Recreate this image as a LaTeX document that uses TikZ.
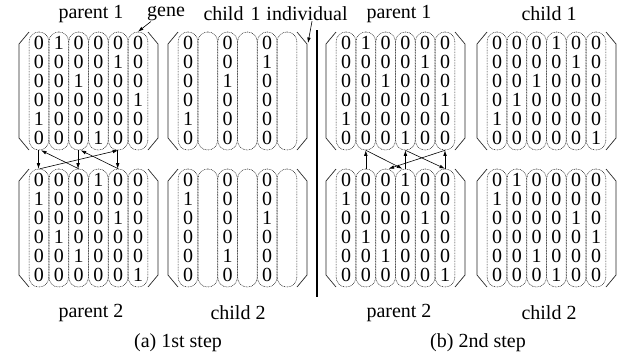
\documentclass[tikz,border=0pt]{standalone}
\usepackage{fontspec}
\setmainfont{Liberation Serif}
\usetikzlibrary{arrows.meta}

\tikzset{
  geneoval/.style={draw=black!85, line width=0.55pt, dash pattern=on 0.8pt off 0.8pt,
    rounded corners=9.6pt, minimum width=19.6pt, minimum height=118pt, inner sep=0pt},
  digit/.style={inner sep=0pt, font=\fontsize{20}{22}\selectfont},
  bracket/.style={draw=black!85, line width=0.7pt},
  label/.style={inner sep=0pt, font=\fontsize{20}{22}\selectfont},
  link/.style={-{Latex[length=5.5pt,width=3.6pt]}, line width=0.6pt},
}

% #1 name, #2 x of first column, #3 top of the gene ovals, #4 list of columns
\newcommand\chromosome[4]{%
  \begin{scope}[shift={(#2,#3)}]
    \foreach \col [count=\c] in {#4} {
      \node[geneoval] (#1-\c) at ({(\c-1)*19.8}, 59) {};
      \foreach \v [count=\r] in \col {
        \node[digit] (#1-\c-\r) at ({(\c-1)*19.8}, {11+(\r-1)*19}) {\v};
      }
    }
    \draw[bracket] (-10,0) -- (-20,12) -- (-20,106) -- (-10,118);
    \draw[bracket] (109,0) -- (119,12) -- (119,106) -- (109,118);
    \coordinate (#1-R) at (120,11);
  \end{scope}}

\begin{document}
\begin{tikzpicture}[x=1pt, y=-1pt]
  \useasboundingbox (0,0) rectangle (624,354);

  % (a) first step
  \chromosome{ap1}{39}{32}{{0,0,0,0,1,0},{1,0,0,0,0,0},{0,0,1,0,0,0},{0,0,0,0,0,1},{0,1,0,0,0,0},{0,0,0,1,0,0}}
  \chromosome{ap2}{39}{169}{{0,1,0,0,0,0},{0,0,0,1,0,0},{0,0,0,0,1,0},{1,0,0,0,0,0},{0,0,1,0,0,0},{0,0,0,0,0,1}}
  \chromosome{ac1}{188}{32}{{0,0,0,0,1,0},{},{0,0,1,0,0,0},{},{0,1,0,0,0,0},{}}
  \chromosome{ac2}{188}{169}{{0,1,0,0,0,0},{},{0,0,0,0,1,0},{},{0,0,1,0,0,0},{}}

  % (b) second step
  \chromosome{bp1}{346}{32}{{0,0,0,0,1,0},{1,0,0,0,0,0},{0,0,1,0,0,0},{0,0,0,0,0,1},{0,1,0,0,0,0},{0,0,0,1,0,0}}
  \chromosome{bp2}{346}{169}{{0,1,0,0,0,0},{0,0,0,1,0,0},{0,0,0,0,1,0},{1,0,0,0,0,0},{0,0,1,0,0,0},{0,0,0,0,0,1}}
  \chromosome{bc1}{497}{32}{{0,0,0,0,1,0},{0,0,0,1,0,0},{0,0,1,0,0,0},{1,0,0,0,0,0},{0,1,0,0,0,0},{0,0,0,0,0,1}}
  \chromosome{bc2}{497}{169}{{0,1,0,0,0,0},{1,0,0,0,0,0},{0,0,0,0,1,0},{0,0,0,0,0,1},{0,0,1,0,0,0},{0,0,0,1,0,0}}

  % labels
  \node[label] (lap1) at (91,14) {parent 1};
  \node[label] (gene) at (166,14) {gene};
  \node[label] (lac1) at (232,14) {child\hspace{0.35em}1};
  \node[label] (indiv) at (307,14) {individual};
  \node[label] (lbp1) at (399,14) {parent 1};
  \node[label] (lbc1) at (549,14) {child 1};
  \node[label] (lap2) at (91,313) {parent 2};
  \node[label] (lac2) at (238,313) {child 2};
  \node[label] (lbp2) at (399,313) {parent 2};
  \node[label] (lbc2) at (549,313) {child 2};
  \node[label] (capa) at (178,343) {(a) 1st step};
  \node[label] (capb) at (478,343) {(b) 2nd step};

  % pointers
  \draw[link] ([xshift=4pt]gene.south west) -- (ap1-6.north);
  \draw[link] ([xshift=5pt]indiv.south) -- (ac1-R);

  % separator
  \coordinate (septop) at (317,30);
  \coordinate (sepbot) at (317,297);
  \draw[line width=1.1pt] (septop) -- (sepbot);

  % cycle of step (a): columns 1, 5, 3
  \foreach \i in {1,3,5}
    \draw[link] ([xshift=-0.5pt]ap1-\i.south) -- ([xshift=-0.5pt]ap2-\i.north);
  \draw[link] ([xshift=0pt]ap2-3.north) -- ([xshift=2pt]ap1-1.south);
  \draw[link] ([xshift=0pt]ap2-5.north) -- ([xshift=2pt]ap1-3.south);
  \draw[link] ([xshift=1pt]ap2-1.north) -- ([xshift=0pt]ap1-5.south);

  % cycle of step (b): columns 2, 4, 6
  \foreach \i in {2,4,6}
    \draw[link] (bp2-\i.north) -- (bp1-\i.south);
  \draw[link] (bp1-2.south) -- ([xshift=-3pt]bp2-4.north);
  \draw[link] (bp1-4.south) -- (bp2-6.north);
  \draw[link] (bp1-6.south) -- ([xshift=3pt]bp2-3.north);
\end{tikzpicture}
\end{document}
